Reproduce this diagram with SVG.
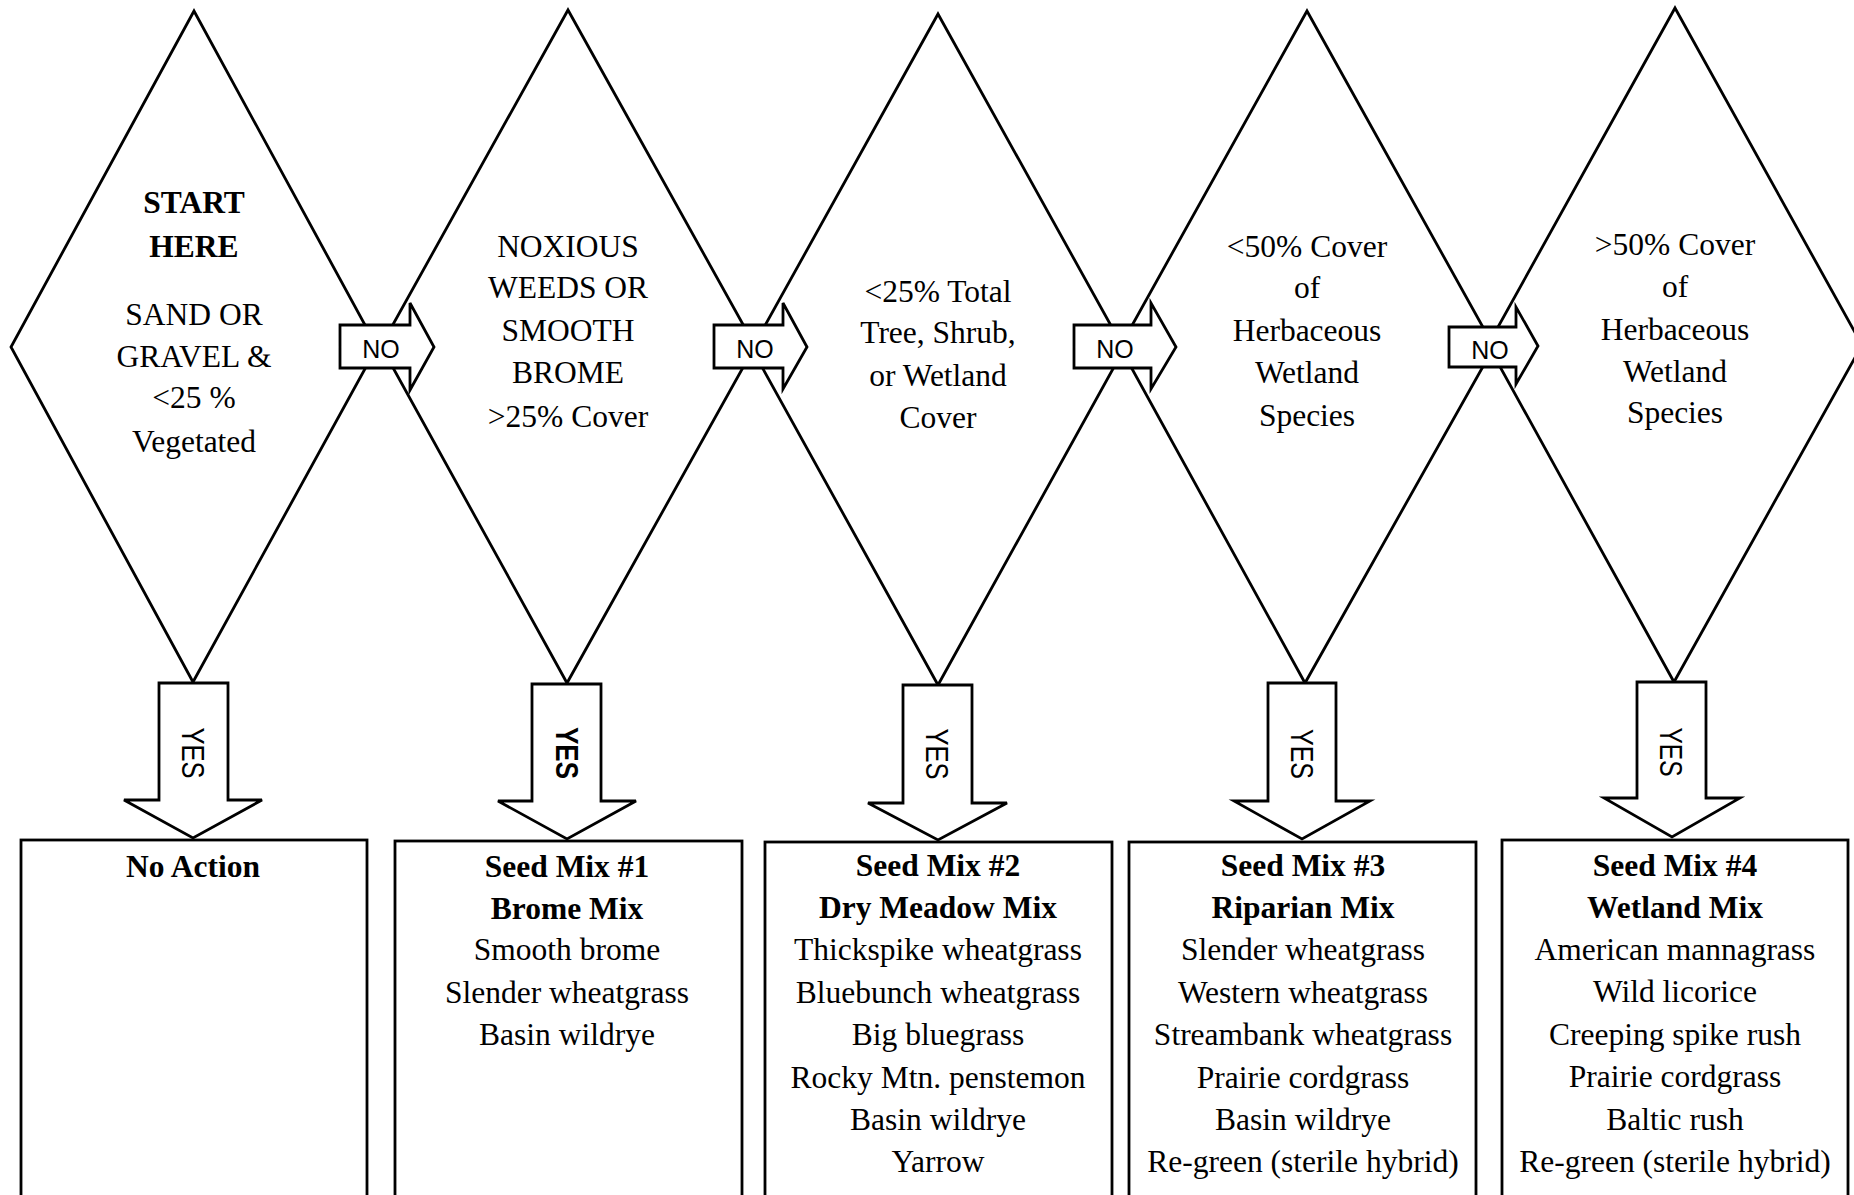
<svg xmlns="http://www.w3.org/2000/svg" width="1854" height="1195" viewBox="0 0 1854 1195">
<style>
.bg{fill:#fff}
.dia{fill:none;stroke:#000;stroke-width:2.8;stroke-linejoin:miter}
.box{fill:#fff;stroke:#000;stroke-width:2.8}
.arr{fill:#fff;stroke:#000;stroke-width:2.8;stroke-linejoin:miter}
.t{font-family:"Liberation Serif","Times New Roman",serif;font-size:31.5px;fill:#000;text-anchor:middle}
.b{font-weight:bold}
.lab{font-family:"Liberation Sans",Arial,sans-serif;font-size:25px;fill:#000;text-anchor:middle}
.yes{font-family:"Liberation Sans",Arial,sans-serif;font-size:32px;fill:#000;text-anchor:middle}
</style>
<rect class="bg" x="0" y="0" width="1854" height="1195"/>

<g id="d1">
<polygon class="dia" points="194,11 377,347 193,682 11,347"/>
<text class="t b" x="194" y="213">START</text>
<text class="t b" x="194" y="257">HERE</text>
<text class="t" x="194" y="325">SAND OR</text>
<text class="t" x="194" y="367">GRAVEL &amp;</text>
<text class="t" x="194" y="408">&lt;25 %</text>
<text class="t" x="194" y="452">Vegetated</text>
</g>

<g id="d2">
<polygon class="dia" points="568,10 755,346 567,683 381,346"/>
<text class="t" x="568" y="257">NOXIOUS</text>
<text class="t" x="568" y="298">WEEDS OR</text>
<text class="t" x="568" y="341">SMOOTH</text>
<text class="t" x="568" y="383">BROME</text>
<text class="t" x="568" y="427">&gt;25% Cover</text>
</g>

<g id="d3">
<polygon class="dia" points="938,14 1124,349 938,685 752,349"/>
<text class="t" x="938" y="302">&lt;25% Total</text>
<text class="t" x="938" y="343">Tree, Shrub,</text>
<text class="t" x="938" y="386">or Wetland</text>
<text class="t" x="938" y="428">Cover</text>
</g>

<g id="d4">
<polygon class="dia" points="1307,11 1494,347 1305,683 1120,347"/>
<text class="t" x="1307" y="257">&lt;50% Cover</text>
<text class="t" x="1307" y="298">of</text>
<text class="t" x="1307" y="341">Herbaceous</text>
<text class="t" x="1307" y="383">Wetland</text>
<text class="t" x="1307" y="426">Species</text>
</g>

<g id="d5">
<polygon class="dia" points="1675,8 1862,345 1674,682 1488,345"/>
<text class="t" x="1675" y="255">&gt;50% Cover</text>
<text class="t" x="1675" y="297">of</text>
<text class="t" x="1675" y="340">Herbaceous</text>
<text class="t" x="1675" y="382">Wetland</text>
<text class="t" x="1675" y="423">Species</text>
</g>

<g id="b1">
<rect class="box" x="21" y="840" width="346" height="380"/>
<text class="t b" x="193" y="877">No Action</text>
</g>

<g id="b2">
<rect class="box" x="395" y="841" width="347" height="380"/>
<text class="t b" x="567" y="877">Seed Mix #1</text>
<text class="t b" x="567" y="919">Brome Mix</text>
<text class="t" x="567" y="960">Smooth brome</text>
<text class="t" x="567" y="1003">Slender wheatgrass</text>
<text class="t" x="567" y="1045">Basin wildrye</text>
</g>

<g id="b3">
<rect class="box" x="765" y="842" width="347" height="380"/>
<text class="t b" x="938" y="876">Seed Mix #2</text>
<text class="t b" x="938" y="918">Dry Meadow Mix</text>
<text class="t" x="938" y="960">Thickspike wheatgrass</text>
<text class="t" x="938" y="1003">Bluebunch wheatgrass</text>
<text class="t" x="938" y="1045">Big bluegrass</text>
<text class="t" x="938" y="1088">Rocky Mtn. penstemon</text>
<text class="t" x="938" y="1130">Basin wildrye</text>
<text class="t" x="938" y="1172">Yarrow</text>
</g>

<g id="b4">
<rect class="box" x="1129" y="842" width="347" height="380"/>
<text class="t b" x="1303" y="876">Seed Mix #3</text>
<text class="t b" x="1303" y="918">Riparian Mix</text>
<text class="t" x="1303" y="960">Slender wheatgrass</text>
<text class="t" x="1303" y="1003">Western wheatgrass</text>
<text class="t" x="1303" y="1045">Streambank wheatgrass</text>
<text class="t" x="1303" y="1088">Prairie cordgrass</text>
<text class="t" x="1303" y="1130">Basin wildrye</text>
<text class="t" x="1303" y="1172">Re-green (sterile hybrid)</text>
</g>

<g id="b5">
<rect class="box" x="1502" y="840" width="346" height="380"/>
<text class="t b" x="1675" y="876">Seed Mix #4</text>
<text class="t b" x="1675" y="918">Wetland Mix</text>
<text class="t" x="1675" y="960">American mannagrass</text>
<text class="t" x="1675" y="1002">Wild licorice</text>
<text class="t" x="1675" y="1045">Creeping spike rush</text>
<text class="t" x="1675" y="1087">Prairie cordgrass</text>
<text class="t" x="1675" y="1130">Baltic rush</text>
<text class="t" x="1675" y="1172">Re-green (sterile hybrid)</text>
</g>

<g id="connectors">
<polygon class="arr" points="340,325 410,325 410,303 434,347 410,390 410,368 340,368"/>
<text class="lab" x="381" y="358">NO</text>
<polygon class="arr" points="714,325 783,325 783,303 807,347 783,389 783,368 714,368"/>
<text class="lab" x="755" y="358">NO</text>
<polygon class="arr" points="1074,325 1151,325 1151,303 1176,347 1151,389 1151,368 1074,368"/>
<text class="lab" x="1115" y="358">NO</text>
<polygon class="arr" points="1449,327 1516,327 1516,307 1538,346 1516,384 1516,367 1449,367"/>
<text class="lab" x="1490" y="359">NO</text>

<polygon class="arr" points="159,683 228,683 228,800 262,800 193,838 124,800 159,800"/>
<text class="yes" transform="translate(193,753) rotate(90)" x="0" y="11.5" textLength="51" lengthAdjust="spacingAndGlyphs">YES</text>
<polygon class="arr" points="532,684 601,684 601,801 636,801 567,839 498,801 532,801"/>
<text class="yes b" transform="translate(567,753) rotate(90)" x="0" y="11.5" textLength="52" lengthAdjust="spacingAndGlyphs">YES</text>
<polygon class="arr" points="903,685 972,685 972,803 1007,803 938,840 868,803 903,803"/>
<text class="yes" transform="translate(937,754) rotate(90)" x="0" y="11.5" textLength="51" lengthAdjust="spacingAndGlyphs">YES</text>
<polygon class="arr" points="1268,683 1336,683 1336,801 1370,801 1302,839 1234,801 1268,801"/>
<text class="yes" transform="translate(1302,754) rotate(90)" x="0" y="11.5" textLength="50" lengthAdjust="spacingAndGlyphs">YES</text>
<polygon class="arr" points="1637,682 1706,682 1706,798 1740,798 1672,837 1604,798 1637,798"/>
<text class="yes" transform="translate(1671,752) rotate(90)" x="0" y="11.5" textLength="49" lengthAdjust="spacingAndGlyphs">YES</text>
</g>
</svg>
